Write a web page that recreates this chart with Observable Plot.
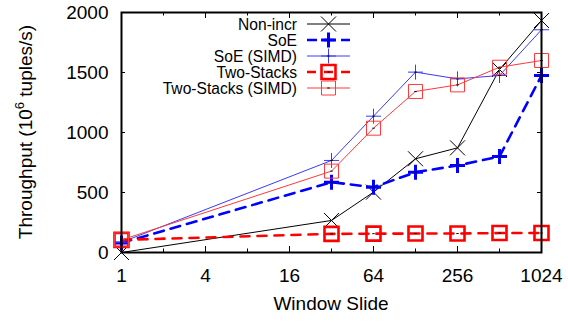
<!DOCTYPE html>
<html><head><meta charset="utf-8">
<script src="https://cdn.jsdelivr.net/npm/d3@7"></script>
<script src="https://cdn.jsdelivr.net/npm/@observablehq/plot@0.6"></script>
<style>body{margin:0;background:#fff} #chart{width:568px;height:322px}</style>
</head><body><div id="chart"></div>
<script>
// ---- data ----
const slides = [1, 32, 64, 128, 256, 512, 1024];
const nonIncr = [0, 267, 503, 781, 872, 1525, 1933];
const soe = [80, 586, 544, 669, 725, 800, 1475];
const soeSimd = [85, 767, 1136, 1503, 1447, 1475, 1856];
const twoStacks = [105, 155, 157, 158, 158, 162, 162];
const twoStacksSimd = [105, 678, 1036, 1342, 1397, 1544, 1600];
const seriesNames = ["Non-incr", "SoE", "SoE (SIMD)", "Two-Stacks", "Two-Stacks (SIMD)"];
const xTickLabels = [1, 4, 16, 64, 256, 1024];
const xMinorTicks = [2, 8, 32, 128, 512];
const yTicks = [0, 500, 1000, 1500, 2000];
const xTitle = "Window Slide";

// ---- fixed-size gnuplot-like point symbols ----
const symTimes = {draw(c) { const h = 7.5; c.moveTo(-h, -h); c.lineTo(h, h); c.moveTo(-h, h); c.lineTo(h, -h); }};
const symPlus = {draw(c) { const h = 7.5; c.moveTo(-h, 0); c.lineTo(h, 0); c.moveTo(0, -h); c.lineTo(0, h); }};
const symSquare = {draw(c) { const h = 7; c.moveTo(-h, -h); c.lineTo(h, -h); c.lineTo(h, h); c.lineTo(-h, h); c.closePath(); }};
const symDash = {draw(c) { c.moveTo(-1.2, 0); c.lineTo(1.2, 0); }};

// ---- styles ----
const BLUE = "#0000ff", RED = "#ff0000", BLUE_THIN = "#3a3aff", RED_THIN = "#ff3a3a";
const styles = [
  {stroke: "#000", width: 1, dash: null, symbol: symTimes, mw: 1},
  {stroke: BLUE, width: 2.6, dash: "10,7", symbol: symPlus, mw: 3, center: true},
  {stroke: BLUE_THIN, width: 1, dash: null, symbol: symPlus, mw: 1, center: true},
  {stroke: RED, width: 2.6, dash: "9,8", symbol: symSquare, mw: 2.6, center: true},
  {stroke: RED_THIN, width: 1, dash: null, symbol: symSquare, mw: 1, center: true}
];
const values = [nonIncr, soe, soeSimd, twoStacks, twoStacksSimd];
const series = seriesNames.map((name, i) => slides.map((x, j) => ({x, y: values[i][j], name})));

const W = 568, H = 322, mL = 121, mR = 27, mT = 12, mB = 70;
const PW = W - mL - mR, PH = H - mT - mB;
const FONT = "Liberation Sans, Arial, Helvetica, sans-serif";

const marks = [];
series.forEach((data, i) => {
  const s = styles[i];
  marks.push(Plot.line(data, {x: "x", y: "y", stroke: s.stroke, strokeWidth: s.width, strokeDasharray: s.dash}));
  marks.push(Plot.dot(data, {x: "x", y: "y", symbol: s.symbol, r: 5, stroke: s.stroke, strokeWidth: s.mw, fill: "none"}));
  if (s.center) marks.push(Plot.dot(data, {x: "x", y: "y", symbol: symDash, r: 1, stroke: "#000", strokeWidth: 1}));
});

const fmt = d3.format("d");
const chart = Plot.plot({
  width: W, height: H,
  marginLeft: mL, marginRight: mR, marginTop: mT, marginBottom: mB,
  style: {fontFamily: FONT, fontSize: "19px", background: "#fff", color: "#000"},
  x: {type: "log", base: 2, domain: [1, 1024]},
  y: {domain: [0, 2000]},
  marks: [
    Plot.tickX(xTickLabels, {x: d => d, insetTop: PH - 6, stroke: "#000"}),
    Plot.tickX(xTickLabels, {x: d => d, insetBottom: PH - 6, stroke: "#000"}),
    Plot.tickX(xMinorTicks, {x: d => d, insetTop: PH - 3.5, stroke: "#000"}),
    Plot.tickX(xMinorTicks, {x: d => d, insetBottom: PH - 3.5, stroke: "#000"}),
    Plot.tickY(yTicks, {y: d => d, insetRight: PW - 4, stroke: "#000"}),
    Plot.tickY(yTicks, {y: d => d, insetLeft: PW - 4, stroke: "#000"}),
    Plot.axisX(xTickLabels, {tickSize: 0, tickPadding: 16, fontSize: 19, label: null, tickFormat: fmt}),
    Plot.axisY(yTicks, {tickSize: 0, tickPadding: 13, fontSize: 19, label: null, tickFormat: fmt}),
    ...marks,
    Plot.frame({stroke: "#000", strokeWidth: 2})
  ]
});
document.getElementById("chart").appendChild(chart);

// ---- titles and legend ----
const svg = d3.select(chart);
svg.append("text").attr("x", mL + PW / 2).attr("y", 310).attr("text-anchor", "middle")
  .attr("font-family", FONT).attr("font-size", 19).text(xTitle);
const yt = svg.append("text").attr("transform", "translate(32," + (mT + PH / 2) + ") rotate(-90)")
  .attr("text-anchor", "middle").attr("font-family", FONT).attr("font-size", 19);
yt.append("tspan").text("Throughput (10");
yt.append("tspan").attr("dy", -8).attr("font-size", 13).text("6");
yt.append("tspan").attr("dy", 8).text(" tuples/s)");

const lg = svg.append("g");
seriesNames.forEach((name, i) => {
  const s = styles[i];
  const cy = 24 + i * 16;
  lg.append("text").attr("x", 297).attr("y", cy + 5.5).attr("text-anchor", "end")
    .attr("font-family", FONT).attr("font-size", 15.6).text(name);
  lg.append("line").attr("x1", 307).attr("x2", 350).attr("y1", cy).attr("y2", cy)
    .attr("stroke", s.stroke).attr("stroke-width", s.width).attr("stroke-dasharray", s.dash);
  lg.append("path").attr("transform", `translate(328.5,${cy})`)
    .attr("d", d3.symbol(s.symbol)()).attr("fill", "none")
    .attr("stroke", s.stroke).attr("stroke-width", s.mw);
  if (s.center) lg.append("path").attr("transform", `translate(328.5,${cy})`)
    .attr("d", d3.symbol(symDash)()).attr("stroke", "#000").attr("stroke-width", 1);
});
</script>
</body></html>
